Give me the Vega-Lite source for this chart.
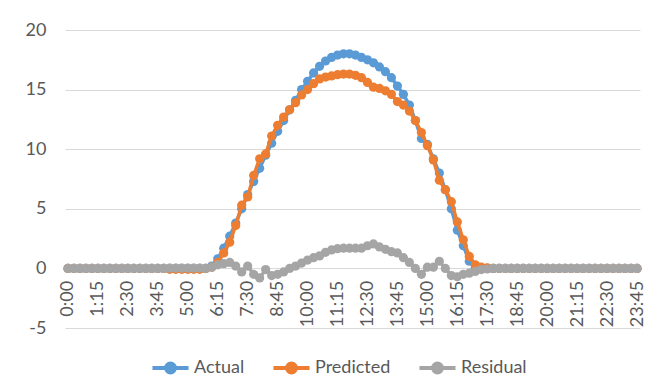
{
  "$schema": "https://vega.github.io/schema/vega-lite/v6.json",
  "width": 575,
  "height": 298,
  "autosize": {"type": "none"},
  "padding": {"left": 65, "top": 30, "right": 7, "bottom": 63},
  "background": "white",
  "config": {
    "view": {"stroke": null},
    "font": "Lato",
    "axis": {"labelFont": "Lato", "labelFontSize": 18, "labelColor": "#595959", "titleFont": "Lato"},
    "legend": {"labelFont": "Lato"}
  },
  "data": {
    "values": [
      {"t": "0:00", "Actual": 0, "Predicted": 0, "Residual": 0},
      {"t": "0:15", "Actual": 0, "Predicted": 0, "Residual": 0},
      {"t": "0:30", "Actual": 0, "Predicted": 0, "Residual": 0},
      {"t": "0:45", "Actual": 0, "Predicted": 0, "Residual": 0},
      {"t": "1:00", "Actual": 0, "Predicted": 0, "Residual": 0},
      {"t": "1:15", "Actual": 0, "Predicted": 0, "Residual": 0},
      {"t": "1:30", "Actual": 0, "Predicted": 0, "Residual": 0},
      {"t": "1:45", "Actual": 0, "Predicted": 0, "Residual": 0},
      {"t": "2:00", "Actual": 0, "Predicted": 0, "Residual": 0},
      {"t": "2:15", "Actual": 0, "Predicted": 0, "Residual": 0},
      {"t": "2:30", "Actual": 0, "Predicted": 0, "Residual": 0},
      {"t": "2:45", "Actual": 0, "Predicted": 0, "Residual": 0},
      {"t": "3:00", "Actual": 0, "Predicted": 0, "Residual": 0},
      {"t": "3:15", "Actual": 0, "Predicted": 0, "Residual": 0},
      {"t": "3:30", "Actual": 0, "Predicted": 0, "Residual": 0},
      {"t": "3:45", "Actual": 0, "Predicted": 0, "Residual": 0},
      {"t": "4:00", "Actual": 0, "Predicted": 0, "Residual": 0},
      {"t": "4:15", "Actual": 0, "Predicted": -0.08, "Residual": 0.03},
      {"t": "4:30", "Actual": 0, "Predicted": -0.08, "Residual": 0.03},
      {"t": "4:45", "Actual": 0, "Predicted": -0.08, "Residual": 0.03},
      {"t": "5:00", "Actual": 0, "Predicted": -0.08, "Residual": 0.03},
      {"t": "5:15", "Actual": 0, "Predicted": -0.08, "Residual": 0.03},
      {"t": "5:30", "Actual": 0, "Predicted": -0.08, "Residual": 0.03},
      {"t": "5:45", "Actual": 0, "Predicted": 0, "Residual": 0},
      {"t": "6:00", "Actual": 0.2, "Predicted": 0.1, "Residual": 0.1},
      {"t": "6:15", "Actual": 0.8, "Predicted": 0.5, "Residual": 0.3},
      {"t": "6:30", "Actual": 1.7, "Predicted": 1.3, "Residual": 0.4},
      {"t": "6:45", "Actual": 2.7, "Predicted": 2.2, "Residual": 0.5},
      {"t": "7:00", "Actual": 3.8, "Predicted": 3.6, "Residual": 0.2},
      {"t": "7:15", "Actual": 5.0, "Predicted": 5.3, "Residual": -0.3},
      {"t": "7:30", "Actual": 6.2, "Predicted": 6.0, "Residual": 0.2},
      {"t": "7:45", "Actual": 7.3, "Predicted": 7.8, "Residual": -0.5},
      {"t": "8:00", "Actual": 8.4, "Predicted": 9.2, "Residual": -0.8},
      {"t": "8:15", "Actual": 9.5, "Predicted": 9.6, "Residual": -0.1},
      {"t": "8:30", "Actual": 10.5, "Predicted": 11.1, "Residual": -0.6},
      {"t": "8:45", "Actual": 11.5, "Predicted": 12.0, "Residual": -0.5},
      {"t": "9:00", "Actual": 12.4, "Predicted": 12.7, "Residual": -0.3},
      {"t": "9:15", "Actual": 13.3, "Predicted": 13.3, "Residual": 0.0},
      {"t": "9:30", "Actual": 14.1, "Predicted": 13.9, "Residual": 0.2},
      {"t": "9:45", "Actual": 15.0, "Predicted": 14.55, "Residual": 0.45},
      {"t": "10:00", "Actual": 15.7, "Predicted": 15.0, "Residual": 0.7},
      {"t": "10:15", "Actual": 16.4, "Predicted": 15.5, "Residual": 0.9},
      {"t": "10:30", "Actual": 16.95, "Predicted": 15.9, "Residual": 1.05},
      {"t": "10:45", "Actual": 17.4, "Predicted": 16.05, "Residual": 1.35},
      {"t": "11:00", "Actual": 17.7, "Predicted": 16.15, "Residual": 1.55},
      {"t": "11:15", "Actual": 17.9, "Predicted": 16.25, "Residual": 1.65},
      {"t": "11:30", "Actual": 18.0, "Predicted": 16.3, "Residual": 1.7},
      {"t": "11:45", "Actual": 18.0, "Predicted": 16.3, "Residual": 1.7},
      {"t": "12:00", "Actual": 17.9, "Predicted": 16.2, "Residual": 1.7},
      {"t": "12:15", "Actual": 17.7, "Predicted": 16.0, "Residual": 1.7},
      {"t": "12:30", "Actual": 17.5, "Predicted": 15.6, "Residual": 1.9},
      {"t": "12:45", "Actual": 17.25, "Predicted": 15.2, "Residual": 2.05},
      {"t": "13:00", "Actual": 16.9, "Predicted": 15.1, "Residual": 1.8},
      {"t": "13:15", "Actual": 16.5, "Predicted": 14.9, "Residual": 1.6},
      {"t": "13:30", "Actual": 16.0, "Predicted": 14.6, "Residual": 1.4},
      {"t": "13:45", "Actual": 15.3, "Predicted": 14.0, "Residual": 1.3},
      {"t": "14:00", "Actual": 14.6, "Predicted": 13.7, "Residual": 0.9},
      {"t": "14:15", "Actual": 13.7, "Predicted": 13.2, "Residual": 0.5},
      {"t": "14:30", "Actual": 12.4, "Predicted": 12.4, "Residual": 0.0},
      {"t": "14:45", "Actual": 10.9, "Predicted": 11.4, "Residual": -0.5},
      {"t": "15:00", "Actual": 10.4, "Predicted": 10.3, "Residual": 0.1},
      {"t": "15:15", "Actual": 9.2, "Predicted": 9.1, "Residual": 0.1},
      {"t": "15:30", "Actual": 8.0, "Predicted": 7.4, "Residual": 0.6},
      {"t": "15:45", "Actual": 6.6, "Predicted": 6.6, "Residual": 0.0},
      {"t": "16:00", "Actual": 5.0, "Predicted": 5.6, "Residual": -0.6},
      {"t": "16:15", "Actual": 3.2, "Predicted": 3.9, "Residual": -0.7},
      {"t": "16:30", "Actual": 1.9, "Predicted": 2.4, "Residual": -0.5},
      {"t": "16:45", "Actual": 0.6, "Predicted": 1.0, "Residual": -0.4},
      {"t": "17:00", "Actual": 0.05, "Predicted": 0.3, "Residual": -0.25},
      {"t": "17:15", "Actual": 0, "Predicted": 0.1, "Residual": -0.1},
      {"t": "17:30", "Actual": 0, "Predicted": 0.05, "Residual": -0.05},
      {"t": "17:45", "Actual": 0, "Predicted": 0, "Residual": 0},
      {"t": "18:00", "Actual": 0, "Predicted": 0, "Residual": 0},
      {"t": "18:15", "Actual": 0, "Predicted": 0, "Residual": 0},
      {"t": "18:30", "Actual": 0, "Predicted": 0, "Residual": 0},
      {"t": "18:45", "Actual": 0, "Predicted": 0, "Residual": 0},
      {"t": "19:00", "Actual": 0, "Predicted": 0, "Residual": 0},
      {"t": "19:15", "Actual": 0, "Predicted": 0, "Residual": 0},
      {"t": "19:30", "Actual": 0, "Predicted": 0, "Residual": 0},
      {"t": "19:45", "Actual": 0, "Predicted": 0, "Residual": 0},
      {"t": "20:00", "Actual": 0, "Predicted": 0, "Residual": 0},
      {"t": "20:15", "Actual": 0, "Predicted": 0, "Residual": 0},
      {"t": "20:30", "Actual": 0, "Predicted": 0, "Residual": 0},
      {"t": "20:45", "Actual": 0, "Predicted": 0, "Residual": 0},
      {"t": "21:00", "Actual": 0, "Predicted": 0, "Residual": 0},
      {"t": "21:15", "Actual": 0, "Predicted": 0, "Residual": 0},
      {"t": "21:30", "Actual": 0, "Predicted": 0, "Residual": 0},
      {"t": "21:45", "Actual": 0, "Predicted": 0, "Residual": 0},
      {"t": "22:00", "Actual": 0, "Predicted": 0, "Residual": 0},
      {"t": "22:15", "Actual": 0, "Predicted": 0, "Residual": 0},
      {"t": "22:30", "Actual": 0, "Predicted": 0, "Residual": 0},
      {"t": "22:45", "Actual": 0, "Predicted": 0, "Residual": 0},
      {"t": "23:00", "Actual": 0, "Predicted": 0, "Residual": 0},
      {"t": "23:15", "Actual": 0, "Predicted": 0, "Residual": 0},
      {"t": "23:30", "Actual": 0, "Predicted": 0, "Residual": 0},
      {"t": "23:45", "Actual": 0, "Predicted": 0, "Residual": 0}
    ]
  },
  "encoding": {
    "x": {
      "field": "t",
      "type": "ordinal",
      "sort": null,
      "scale": {"type": "point", "padding": 0.5},
      "axis": {
        "values": ["0:00", "1:15", "2:30", "3:45", "5:00", "6:15", "7:30", "8:45", "10:00", "11:15", "12:30", "13:45", "15:00", "16:15", "17:30", "18:45", "20:00", "21:15", "22:30", "23:45"],
        "labelAngle": -90,
        "labelOverlap": false,
        "ticks": false,
        "domain": false,
        "grid": false,
        "title": null,
        "offset": -59.6,
        "labelPadding": 12
      }
    }
  },
  "layer": [
    {
      "mark": {"type": "line", "strokeWidth": 3.5, "point": {"filled": true, "size": 85, "opacity": 1}},
      "encoding": {
        "y": {
          "field": "Actual",
          "type": "quantitative",
          "scale": {"domain": [-5, 20], "nice": false},
          "axis": {
            "values": [-5, 0, 5, 10, 15, 20],
            "labelExpr": "datum.value + ''",
            "grid": true,
            "gridColor": "#D9D9D9",
            "gridWidth": 1,
            "domain": false,
            "ticks": false,
            "labelPadding": 19,
            "title": null
          }
        },
        "color": {
          "datum": "Actual",
          "type": "nominal",
          "scale": {"domain": ["Actual", "Predicted", "Residual"], "range": ["#5B9BD5", "#ED7D31", "#A5A5A5"]},
          "legend": {
            "orient": "none",
            "legendX": 85,
            "legendY": 317,
            "direction": "horizontal",
            "title": null,
            "labelFontSize": 18,
            "labelColor": "#595959",
            "symbolType": "M-1,0L1,0M-0.25,0A0.25,0.25 0 1,1 0.25,0A0.25,0.25 0 1,1 -0.25,0Z",
            "symbolSize": 1300,
            "symbolStrokeWidth": 4,
            "columnPadding": 20,
            "labelOffset": 3,
            "encode": {"symbols": {"update": {"fill": {"scale": "color", "field": "value"}, "opacity": {"value": 1}}}}
          }
        }
      }
    },
    {
      "mark": {"type": "line", "strokeWidth": 3.5, "point": {"filled": true, "size": 85, "opacity": 1}},
      "encoding": {
        "y": {"field": "Predicted", "type": "quantitative"},
        "color": {"datum": "Predicted", "type": "nominal"}
      }
    },
    {
      "mark": {"type": "line", "strokeWidth": 3.5, "point": {"filled": true, "size": 85, "opacity": 1}},
      "encoding": {
        "y": {"field": "Residual", "type": "quantitative"},
        "color": {"datum": "Residual", "type": "nominal"}
      }
    }
  ]
}
